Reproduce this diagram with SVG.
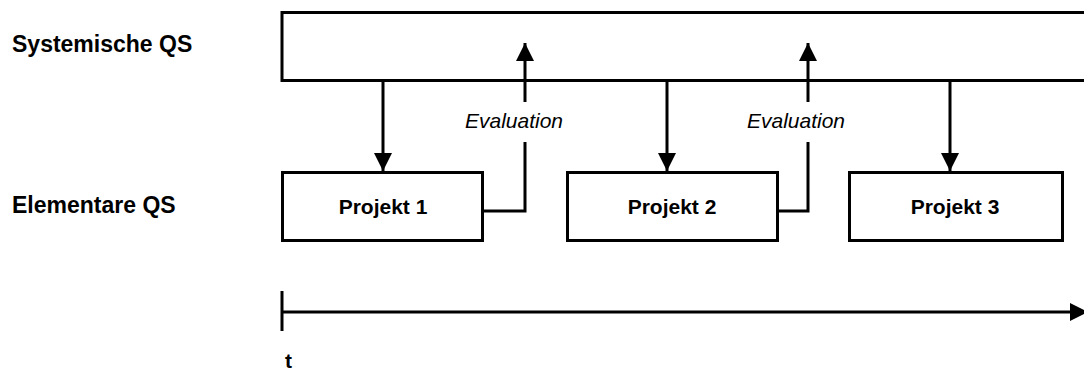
<svg xmlns="http://www.w3.org/2000/svg" width="1084" height="370" viewBox="0 0 1084 370">
<style>
.box{fill:#fff;stroke:#000;stroke-width:3}
.ln{fill:none;stroke:#000;stroke-width:3}
.lbl{font-family:"Liberation Sans",Arial,sans-serif;font-weight:bold;font-size:21px;fill:#000}
.side{font-family:"Liberation Sans",Arial,sans-serif;font-weight:bold;font-size:23px;fill:#000}
.ev{font-family:"Liberation Sans",Arial,sans-serif;font-style:italic;font-size:21px;fill:#000}
</style>
<defs>
<marker id="ah" viewBox="0 0 10 10" refX="10" refY="5" markerWidth="6" markerHeight="6" markerUnits="strokeWidth" orient="auto">
<path d="M0,0 L10,5 L0,10 z" fill="#000"/>
</marker>
</defs>
<g id="label-systemisch"><text class="side" x="12" y="52">Systemische QS</text></g>
<g id="label-elementar"><text class="side" x="12" y="213">Elementare QS</text></g>
<g id="systemische-box"><rect class="box" x="282" y="12.5" width="820" height="68"/></g>
<g id="projekt1"><rect class="box" x="282.5" y="172.5" width="200" height="68"/><text class="lbl" x="383" y="214" text-anchor="middle">Projekt 1</text></g>
<g id="projekt2"><rect class="box" x="567.5" y="172.5" width="210" height="68"/><text class="lbl" x="672" y="214" text-anchor="middle">Projekt 2</text></g>
<g id="projekt3"><rect class="box" x="849.5" y="172.5" width="213" height="68"/><text class="lbl" x="955" y="214" text-anchor="middle">Projekt 3</text></g>
<g id="evaluation1"><text class="ev" x="514" y="128" text-anchor="middle">Evaluation</text></g>
<g id="evaluation2"><text class="ev" x="796" y="128" text-anchor="middle">Evaluation</text></g>
<g id="t-label"><text class="lbl" x="285" y="368" font-size="20">t</text></g>
<g id="connectors">
<line class="ln" x1="383" y1="81" x2="383" y2="171" marker-end="url(#ah)"/>
<line class="ln" x1="667" y1="81" x2="667" y2="171" marker-end="url(#ah)"/>
<line class="ln" x1="950" y1="81" x2="950" y2="171" marker-end="url(#ah)"/>
<polyline class="ln" points="483,211 525,211 525,142"/>
<line class="ln" x1="525" y1="102" x2="525" y2="43" marker-end="url(#ah)"/>
<polyline class="ln" points="778,211 808,211 808,142"/>
<line class="ln" x1="808" y1="102" x2="808" y2="43" marker-end="url(#ah)"/>
<line class="ln" x1="282" y1="291" x2="282" y2="331"/>
<line class="ln" x1="282" y1="312" x2="1088" y2="312" marker-end="url(#ah)"/>
</g>
</svg>
